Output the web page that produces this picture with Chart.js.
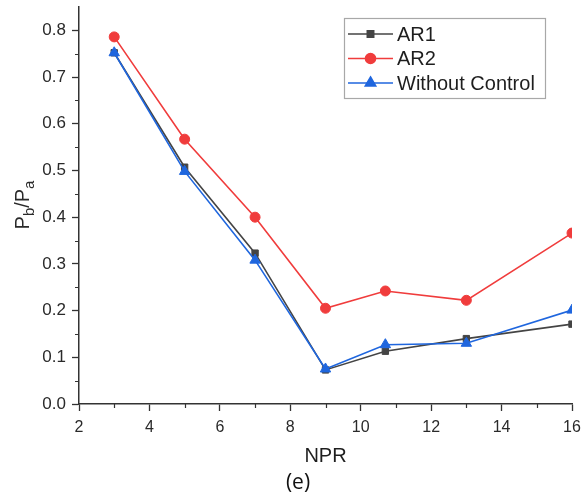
<!DOCTYPE html>
<html>
<head>
<meta charset="utf-8">
<script src="https://cdn.jsdelivr.net/npm/chart.js@4"></script>
<style>
  html, body { margin: 0; padding: 0; background: #ffffff; }
  #wrap { width: 587px; height: 500px; position: relative; }
</style>
</head>
<body>
<div id="wrap"><canvas id="c" width="587" height="500"></canvas></div>
<script>
// ---- data ----
const npr = [3, 5, 7, 9, 10.7, 13, 16];
const ar1 = [0.752, 0.507, 0.323, 0.073, 0.113, 0.140, 0.171];
const ar2 = [0.786, 0.567, 0.400, 0.205, 0.242, 0.222, 0.366];
const withoutControl = [0.752, 0.498, 0.308, 0.075, 0.127, 0.130, 0.201];
const seriesNames = ['AR1', 'AR2', 'Without Control'];
const xTicks = [2, 4, 6, 8, 10, 12, 14, 16];
const yTicks = [0.0, 0.1, 0.2, 0.3, 0.4, 0.5, 0.6, 0.7, 0.8];
const xMinorTicks = [3, 5, 7, 9, 11, 13, 15];
const yMinorTicks = [0.05, 0.15, 0.25, 0.35, 0.45, 0.55, 0.65, 0.75];
const xTitle = 'NPR';
const panelLabel = '(e)';

const toPts = (xs, ys) => xs.map((x, i) => ({ x: x, y: ys[i] }));

const AXIS = '#333333';
const TXT = '#2a2a2a';

const minorTicksPlugin = {
  id: 'minorTicks',
  afterDraw(chart) {
    const ctx = chart.ctx;
    const xs = chart.scales.x, ys = chart.scales.y;
    ctx.save();
    ctx.strokeStyle = AXIS;
    ctx.lineWidth = 1.2;
    ctx.beginPath();
    xMinorTicks.forEach(v => {
      const px = Math.round(xs.getPixelForValue(v)) + 0.5;
      ctx.moveTo(px, xs.top); ctx.lineTo(px, xs.top + 4);
    });
    yMinorTicks.forEach(v => {
      const py = Math.round(ys.getPixelForValue(v)) + 0.5;
      ctx.moveTo(ys.right, py); ctx.lineTo(ys.right - 4, py);
    });
    ctx.stroke();
    ctx.restore();
  }
};

const yTitlePlugin = {
  id: 'yTitle',
  afterDraw(chart) {
    const ctx = chart.ctx;
    ctx.save();
    ctx.translate(22, 205);
    ctx.rotate(-Math.PI / 2);
    ctx.fillStyle = TXT;
    ctx.textBaseline = 'alphabetic';
    const big = '20px "Liberation Sans", Arial, sans-serif';
    const small = '15px "Liberation Sans", Arial, sans-serif';
    const parts = [['P', big, 0], ['b', small, 5], ['/P', big, 0], ['a', small, 5]];
    let total = 0;
    parts.forEach(p => { ctx.font = p[1]; total += ctx.measureText(p[0]).width; });
    let x = -total / 2;
    parts.forEach(p => {
      ctx.font = p[1];
      ctx.fillText(p[0], x, 7 + p[2]);
      x += ctx.measureText(p[0]).width;
    });
    ctx.restore();
  }
};

const legendPlugin = {
  id: 'boxLegend',
  afterDraw(chart) {
    const ctx = chart.ctx;
    const bx = 344, by = 18, bw = 201, bh = 80;
    ctx.save();
    ctx.fillStyle = '#ffffff';
    ctx.fillRect(bx, by, bw, bh);
    ctx.strokeStyle = '#a8a8a8';
    ctx.lineWidth = 1.2;
    ctx.strokeRect(bx + 0.5, by + 0.5, bw, bh);
    chart.data.datasets.forEach((ds, i) => {
      const y = 34 + i * 24.5;
      ctx.strokeStyle = ds.borderColor;
      ctx.lineWidth = 1.6;
      ctx.beginPath();
      ctx.moveTo(348, y); ctx.lineTo(393, y);
      ctx.stroke();
      ctx.fillStyle = ds.pointBackgroundColor;
      ctx.strokeStyle = ds.borderColor;
      Chart.helpers.drawPoint(ctx, {
        pointStyle: ds.pointStyle, radius: ds.pointRadius, rotation: 0, borderWidth: 1
      }, 370.5, y);
      ctx.fillStyle = '#1e1e1e';
      ctx.font = '20px "Liberation Sans", Arial, sans-serif';
      ctx.textBaseline = 'middle';
      ctx.textAlign = 'left';
      ctx.fillText(ds.label, 397, y + 1);
    });
    ctx.restore();
  }
};

const panelPlugin = {
  id: 'panelLabel',
  afterDraw(chart) {
    const ctx = chart.ctx;
    ctx.save();
    ctx.fillStyle = '#111111';
    ctx.font = '21px "Open Sans", "Noto Sans", sans-serif';
    ctx.textAlign = 'center';
    ctx.textBaseline = 'middle';
    ctx.fillText(panelLabel, 298, 483);
    ctx.restore();
  }
};

const mk = (label, data, color, style, r, order) => ({
  label: label,
  data: data,
  borderColor: color,
  backgroundColor: color,
  pointBackgroundColor: color,
  pointBorderColor: color,
  pointStyle: style,
  pointRadius: r,
  pointHoverRadius: r,
  borderWidth: 1.6,
  pointBorderWidth: 1,
  showLine: true,
  tension: 0,
  order: order
});

new Chart(document.getElementById('c'), {
  type: 'scatter',
  data: {
    datasets: [
      mk(seriesNames[0], toPts(npr, ar1), '#444444', 'rect', 4.5, 1),
      mk(seriesNames[1], toPts(npr, ar2), '#f03c3c', 'circle', 5, 2),
      mk(seriesNames[2], toPts(npr, withoutControl), '#1f66de', 'triangle', 6, 0)
    ]
  },
  options: {
    responsive: false,
    animation: false,
    devicePixelRatio: 1,
    layout: { padding: { top: 6, right: 15, left: 0, bottom: 0 } },
    plugins: {
      legend: { display: false },
      tooltip: { enabled: false },
      title: { display: false }
    },
    scales: {
      x: {
        type: 'linear',
        min: 2, max: 16,
        afterBuildTicks: s => { s.ticks = xTicks.map(v => ({ value: v })); },
        afterFit: s => { s.height = 96; s.paddingLeft = 0; s.paddingRight = 0; },
        border: { display: true, color: AXIS, width: 1.5 },
        grid: { display: true, drawOnChartArea: false, drawTicks: true, tickLength: 7, tickColor: AXIS, tickWidth: 1.3 },
        ticks: {
          color: TXT,
          padding: 7,
          maxRotation: 0,
          font: { family: '"Liberation Sans", Arial, sans-serif', size: 16 },
          callback: v => String(v)
        },
        title: {
          display: true,
          text: xTitle,
          color: '#1e1e1e',
          font: { family: '"Liberation Sans", Arial, sans-serif', size: 20 },
          padding: { top: 0, bottom: 32 }
        }
      },
      y: {
        type: 'linear',
        min: 0, max: 0.85,
        afterBuildTicks: s => { s.ticks = yTicks.map(v => ({ value: v })); },
        afterFit: s => { s.width = 79; s.paddingTop = 0; s.paddingBottom = 0; },
        border: { display: true, color: AXIS, width: 1.5 },
        grid: { display: true, drawOnChartArea: false, drawTicks: true, tickLength: 7, tickColor: AXIS, tickWidth: 1.3 },
        ticks: {
          color: TXT,
          padding: 6,
          font: { family: '"Liberation Sans", Arial, sans-serif', size: 17 },
          callback: v => Number(v).toFixed(1)
        }
      }
    }
  },
  plugins: [minorTicksPlugin, yTitlePlugin, legendPlugin, panelPlugin]
});
</script>
</body>
</html>
